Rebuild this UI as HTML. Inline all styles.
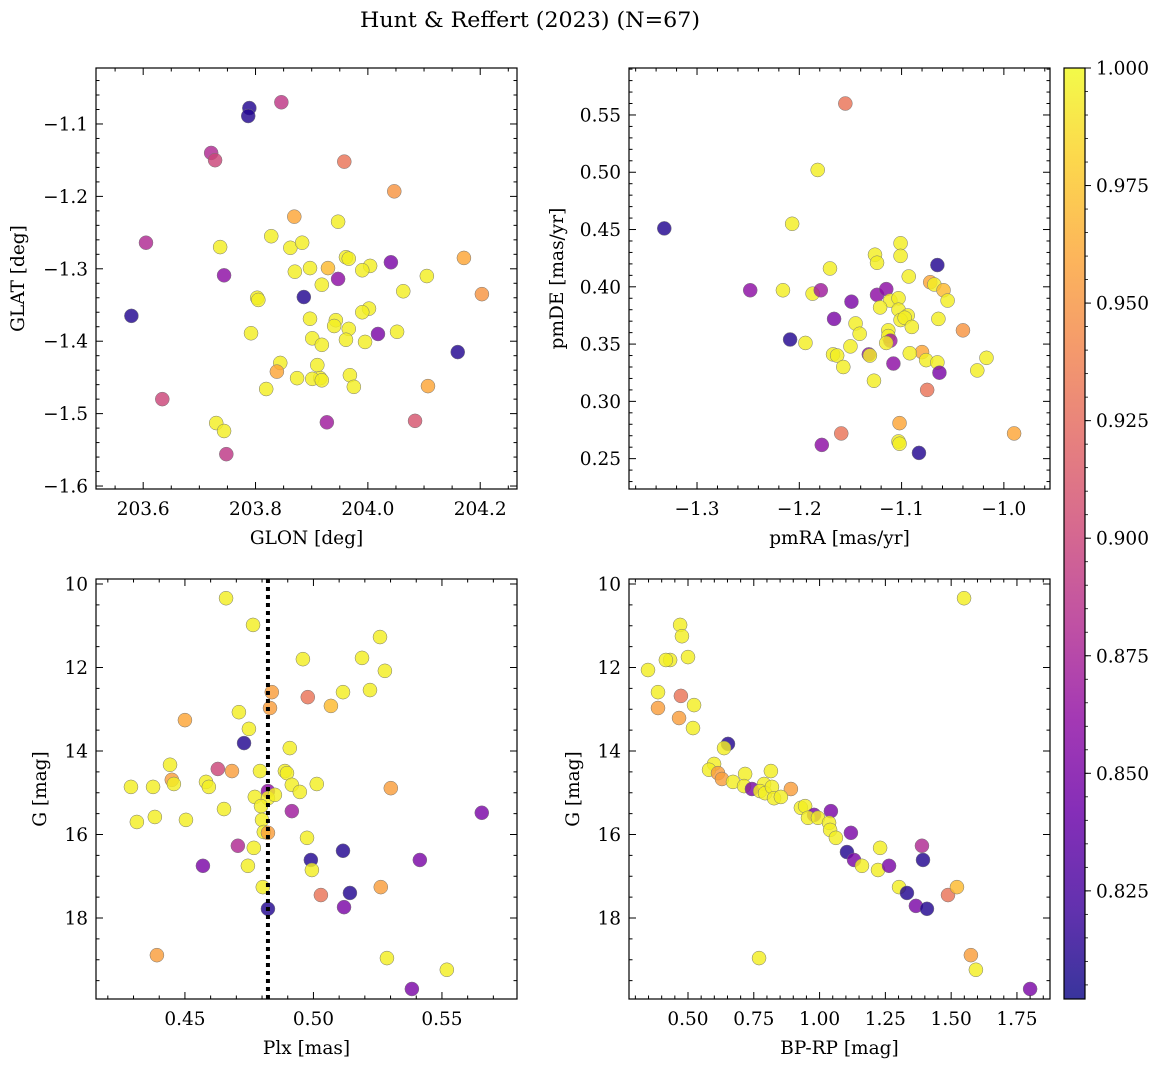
<!DOCTYPE html>
<html><head><meta charset="utf-8">
<style>
html,body{margin:0;padding:0;background:#fff;}
svg{display:block;font-family:"DejaVu Serif","Liberation Serif",serif;}
</style></head>
<body>
<svg id="fig" width="1161" height="1067" viewBox="0 0 1161 1067" xmlns="http://www.w3.org/2000/svg">
<text x="530" y="27" font-size="21.5" text-anchor="middle" textLength="340" lengthAdjust="spacingAndGlyphs">Hunt &amp; Reffert (2023) (N=67)</text>
<defs><linearGradient id="cmap" x1="0" y1="1" x2="0" y2="0">
<stop offset="0" stop-color="#0d0887"/><stop offset="0.1" stop-color="#41049d"/><stop offset="0.2" stop-color="#6a00a8"/><stop offset="0.3" stop-color="#8f0da4"/><stop offset="0.4" stop-color="#b12a90"/><stop offset="0.5" stop-color="#cc4778"/><stop offset="0.6" stop-color="#e16462"/><stop offset="0.7" stop-color="#f2844b"/><stop offset="0.8" stop-color="#fca636"/><stop offset="0.9" stop-color="#fcce25"/><stop offset="1" stop-color="#f0f921"/>
</linearGradient></defs>
</svg>
<script>
// Panel 1: GLON vs GLAT
const glon=[203.789,203.787,203.846,203.721,203.728,203.958,204.047,203.605,203.737,203.744,203.828,203.869,203.862,203.883,203.961,203.966,203.947,203.929,204.041,204.171,204.004,203.990,203.870,203.897,204.105,203.918,203.947,203.886,203.803,203.805,203.579,204.063,204.203,204.002,203.990,203.897,203.943,203.940,203.966,204.018,204.052,203.901,203.918,203.961,203.995,203.792,204.160,203.844,203.910,203.915,203.968,203.838,203.874,203.901,203.918,203.975,203.819,204.107,203.634,204.084,203.927,203.730,203.744,203.748];
const glat=[-1.078,-1.089,-1.070,-1.140,-1.150,-1.152,-1.193,-1.264,-1.270,-1.309,-1.255,-1.228,-1.271,-1.264,-1.284,-1.286,-1.235,-1.299,-1.291,-1.285,-1.296,-1.302,-1.304,-1.299,-1.310,-1.322,-1.314,-1.339,-1.340,-1.343,-1.365,-1.331,-1.335,-1.355,-1.360,-1.369,-1.371,-1.379,-1.383,-1.390,-1.387,-1.396,-1.405,-1.398,-1.401,-1.389,-1.415,-1.430,-1.433,-1.451,-1.447,-1.442,-1.451,-1.452,-1.454,-1.463,-1.466,-1.462,-1.480,-1.510,-1.512,-1.513,-1.524,-1.556];
const probA=[0.81,0.81,0.89,0.88,0.90,0.93,0.95,0.88,0.995,0.86,0.995,0.96,0.995,0.995,0.995,0.995,0.995,0.97,0.85,0.96,0.995,0.995,0.995,0.995,0.995,0.995,0.86,0.81,0.995,0.995,0.81,0.995,0.95,0.995,0.995,0.995,0.995,0.995,0.995,0.85,0.995,0.995,0.995,0.995,0.995,0.995,0.81,0.995,0.995,0.995,0.995,0.96,0.995,0.995,0.995,0.995,0.995,0.96,0.90,0.91,0.87,0.995,0.995,0.89];
// Panel 2: pmRA vs pmDE
const pmra=[-1.155,-1.182,-1.332,-1.207,-1.170,-1.126,-1.124,-1.101,-1.101,-1.248,-1.216,-1.187,-1.179,-1.093,-1.065,-1.072,-1.068,-1.059,-1.055,-1.149,-1.124,-1.115,-1.111,-1.103,-1.103,-1.121,-1.094,-1.101,-1.097,-1.090,-1.166,-1.145,-1.064,-1.141,-1.113,-1.113,-1.111,-1.115,-1.040,-1.209,-1.194,-1.150,-1.167,-1.163,-1.132,-1.131,-1.080,-1.092,-1.108,-1.076,-1.065,-1.017,-1.157,-1.063,-1.026,-1.127,-1.075,-1.159,-1.102,-1.178,-1.103,-1.102,-1.083,-0.990];
const pmde=[0.560,0.502,0.451,0.455,0.416,0.428,0.421,0.438,0.427,0.397,0.397,0.394,0.397,0.409,0.419,0.404,0.402,0.397,0.388,0.387,0.393,0.398,0.388,0.390,0.380,0.382,0.375,0.371,0.373,0.365,0.372,0.368,0.372,0.359,0.362,0.357,0.353,0.351,0.362,0.354,0.351,0.348,0.341,0.340,0.341,0.340,0.343,0.342,0.333,0.336,0.334,0.338,0.330,0.325,0.327,0.318,0.310,0.272,0.281,0.262,0.265,0.263,0.255,0.272];
const probB=[0.93,0.995,0.81,0.995,0.995,0.995,0.995,0.995,0.995,0.86,0.995,0.995,0.87,0.995,0.81,0.96,0.995,0.97,0.995,0.85,0.86,0.86,0.995,0.995,0.995,0.995,0.995,0.995,0.995,0.995,0.85,0.995,0.995,0.995,0.995,0.995,0.87,0.995,0.95,0.81,0.995,0.995,0.995,0.995,0.86,0.995,0.96,0.995,0.86,0.995,0.995,0.995,0.995,0.85,0.995,0.995,0.93,0.93,0.96,0.86,0.995,0.995,0.81,0.96];
// Panel 3: Plx vs G
const plx=[0.4660,0.4765,0.5259,0.4959,0.5278,0.5189,0.4838,0.4978,0.5115,0.4831,0.5068,0.5220,0.4500,0.4710,0.4749,0.4730,0.4908,0.4442,0.4683,0.4628,0.4792,0.4889,0.4897,0.4449,0.4457,0.4582,0.4593,0.4290,0.4376,0.4916,0.4823,0.5301,0.4772,0.4823,0.4947,0.5013,0.4850,0.4796,0.4652,0.4916,0.4800,0.4313,0.4383,0.4504,0.4807,0.4823,0.5655,0.4975,0.4706,0.4768,0.5115,0.4990,0.5414,0.4570,0.4994,0.4745,0.4803,0.5262,0.5142,0.5029,0.5119,0.4823,0.4391,0.5286,0.5519,0.5383];
const gmagC=[10.34,10.98,11.27,11.80,12.08,11.77,12.59,12.71,12.59,12.97,12.92,12.54,13.26,13.07,13.47,13.81,13.93,14.33,14.48,14.43,14.48,14.48,14.53,14.69,14.79,14.74,14.86,14.86,14.86,14.81,14.96,14.89,15.10,15.13,14.98,14.79,15.05,15.32,15.39,15.44,15.65,15.70,15.58,15.65,15.94,15.96,15.48,16.08,16.27,16.32,16.39,16.61,16.61,16.75,16.85,16.75,17.26,17.26,17.40,17.45,17.74,17.78,18.89,18.96,19.24,19.70];
const probC=[0.995,0.995,0.995,0.995,0.995,0.995,0.955,0.93,0.995,0.955,0.97,0.995,0.96,0.995,0.995,0.81,0.995,0.995,0.955,0.90,0.995,0.995,0.995,0.955,0.995,0.995,0.995,0.995,0.995,0.995,0.86,0.955,0.995,0.995,0.995,0.995,0.995,0.995,0.995,0.87,0.995,0.995,0.995,0.995,0.995,0.955,0.85,0.995,0.88,0.995,0.81,0.81,0.85,0.85,0.995,0.995,0.995,0.955,0.81,0.93,0.85,0.81,0.955,0.995,0.995,0.85];
const plxLine=[0.4823];
// Panel 4: BP-RP vs G
const bprp=[1.549,0.470,0.477,0.500,0.432,0.416,0.348,0.386,0.473,0.523,0.386,0.466,0.519,0.652,0.637,0.599,0.580,0.614,0.629,0.671,0.717,0.713,0.743,0.789,0.815,0.774,0.793,0.819,0.891,0.827,0.853,0.929,0.945,0.979,0.956,0.994,1.043,1.036,1.040,1.119,1.062,1.104,1.230,1.131,1.161,1.222,1.264,1.389,1.393,1.302,1.332,1.366,1.408,1.488,1.522,1.575,1.594,0.770,1.800];
const gmagD=[10.34,10.98,11.25,11.75,11.82,11.82,12.06,12.59,12.68,12.90,12.97,13.21,13.45,13.83,13.93,14.31,14.45,14.53,14.67,14.74,14.55,14.84,14.91,14.79,14.48,14.96,15.01,14.86,14.91,15.13,15.10,15.36,15.32,15.53,15.60,15.60,15.44,15.72,15.89,15.96,16.08,16.42,16.32,16.61,16.75,16.85,16.75,16.27,16.61,17.26,17.40,17.71,17.78,17.45,17.26,18.89,19.24,18.96,19.70];
const probD=[0.995,0.995,0.995,0.995,0.995,0.995,0.995,0.995,0.93,0.995,0.955,0.955,0.995,0.81,0.995,0.995,0.995,0.955,0.955,0.995,0.995,0.995,0.85,0.995,0.995,0.995,0.995,0.995,0.955,0.995,0.995,0.995,0.995,0.85,0.995,0.995,0.85,0.995,0.995,0.85,0.995,0.81,0.995,0.85,0.995,0.995,0.85,0.88,0.81,0.995,0.81,0.85,0.81,0.93,0.97,0.955,0.995,0.995,0.85];
const cbTicks=[0.825,0.850,0.875,0.900,0.925,0.950,0.975,1.000];

const NS="http://www.w3.org/2000/svg";
const svg=document.getElementById('fig');
const VMIN=0.802,VMAX=1.0;
const FS=18.5;
const stops=[[13,8,135],[65,4,157],[106,0,168],[143,13,164],[177,42,144],[204,71,120],[225,100,98],[242,132,75],[252,166,54],[252,206,37],[240,249,33]];
function cmap(v){let t=Math.max(0,Math.min(1,(v-VMIN)/(VMAX-VMIN)))*10;let i=Math.min(9,Math.floor(t)),f=t-i;const a=stops[i],b=stops[i+1];return 'rgb('+a.map((c,k)=>Math.round(c+(b[k]-c)*f)).join(',')+')';}
function mk(tag,attrs,parent){const e=document.createElementNS(NS,tag);for(const k in attrs)e.setAttribute(k,attrs[k]);(parent||svg).appendChild(e);return e;}
function fmt(v,d){return (v<0?'\u2212':'')+Math.abs(v).toFixed(d);}

function panel(o){
  const g=mk('g',{});
  
  
  const sx=v=>o.L+(v-o.xd[0])/(o.xd[1]-o.xd[0])*(o.R-o.L);
  const sy=v=>o.T+(v-o.yd[0])/(o.yd[1]-o.yd[0])*(o.B-o.T);
  for(let i=0;i<o.xs.length;i++){
    const c=mk('circle',{cx:sx(o.xs[i]),cy:sy(o.ys[i]),r:7,fill:cmap(o.cs[i]),'fill-opacity':0.82,stroke:'#777','stroke-width':0.5},g);
    
    
  }
  if(o.vline){const l=mk('line',{x1:sx(o.vline),x2:sx(o.vline),y1:o.T,y2:o.B,stroke:'#000','stroke-width':4,'stroke-dasharray':'4,4'},g);
    
    }
  const f=mk('rect',{x:o.L,y:o.T,width:o.R-o.L,height:o.B-o.T,fill:'none',stroke:'#000','stroke-width':1.2},g);
  
  
  const eps=1e-9;
  for(let v=Math.ceil(o.xd[0]/o.xmin-eps)*o.xmin; v<=o.xd[1]+eps; v+=o.xmin){
    const x=sx(v);const isMaj=Math.abs(v/o.xmaj-Math.round(v/o.xmaj))<1e-6;const len=isMaj?7:3.5;
    mk('line',{x1:x,x2:x,y1:o.B,y2:o.B-len,stroke:'#000','stroke-width':1},g);
    mk('line',{x1:x,x2:x,y1:o.T,y2:o.T+len,stroke:'#000','stroke-width':1},g);
    if(isMaj){const t=mk('text',{x:x,y:o.B+26,'font-size':FS,'text-anchor':'middle'},g);t.textContent=fmt(v,o.xdec);
      
      }
  }
  const y0=Math.min(o.yd[0],o.yd[1]),y1=Math.max(o.yd[0],o.yd[1]);
  for(let v=Math.ceil(y0/o.ymin-eps)*o.ymin; v<=y1+eps; v+=o.ymin){
    const y=sy(v);const isMaj=Math.abs(v/o.ymaj-Math.round(v/o.ymaj))<1e-6;const len=isMaj?7:3.5;
    mk('line',{x1:o.L,x2:o.L+len,y1:y,y2:y,stroke:'#000','stroke-width':1},g);
    mk('line',{x1:o.R,x2:o.R-len,y1:y,y2:y,stroke:'#000','stroke-width':1},g);
    if(isMaj){const t=mk('text',{x:o.L-8,y:y+6.5,'font-size':FS,'text-anchor':'end'},g);t.textContent=fmt(v,o.ydec);
      
      }
  }
  const xl=mk('text',{x:(o.L+o.R)/2,y:o.B+55,'font-size':FS,'text-anchor':'middle'},g);xl.textContent=o.xlabel;
  
  
  const yx=o.ylx;const yy=(o.T+o.B)/2;
  const yl=mk('text',{x:yx,y:yy,'font-size':FS,'text-anchor':'middle',transform:'rotate(-90 '+yx+' '+yy+')'},g);yl.textContent=o.ylabel;
  
  
}

panel({name:'glon-glat-panel',L:96,R:517,T:68,B:489,xd:[203.516,204.2655],yd:[-1.0227,-1.6041],xmaj:0.2,xmin:0.05,ymaj:0.1,ymin:0.02,xdec:1,ydec:1,xs:glon,ys:glat,cs:probA,xlabel:'GLON [deg]',ylabel:'GLAT [deg]',ylx:24});
panel({name:'proper-motion-panel',L:629,R:1050,T:68,B:489,xd:[-1.3665,-0.9549],yd:[0.591,0.2235],xmaj:0.1,xmin:0.02,ymaj:0.05,ymin:0.01,xdec:1,ydec:2,xs:pmra,ys:pmde,cs:probB,xlabel:'pmRA [mas/yr]',ylabel:'pmDE [mas/yr]',ylx:563});
panel({name:'parallax-g-panel',L:96,R:517,T:579,B:999,xd:[0.4154,0.5792],yd:[9.88,19.94],xmaj:0.05,xmin:0.01,ymaj:2,ymin:0.5,xdec:2,ydec:0,xs:plx,ys:gmagC,cs:probC,vline:plxLine[0],xlabel:'Plx [mas]',ylabel:'G [mag]',ylx:46});
panel({name:'cmd-panel',L:629,R:1050,T:579,B:999,xd:[0.2758,1.8756],yd:[9.88,19.94],xmaj:0.25,xmin:0.05,ymaj:2,ymin:0.5,xdec:2,ydec:0,xs:bprp,ys:gmagD,cs:probD,xlabel:'BP-RP [mag]',ylabel:'G [mag]',ylx:579});

const cb=mk('g',{});


const CT=68,CB=999,CL=1064,CR=1085;
mk('rect',{x:CL,y:CT,width:CR-CL,height:CB-CT,fill:'url(#cmap)','fill-opacity':0.82},cb);
mk('rect',{x:CL,y:CT,width:CR-CL,height:CB-CT,fill:'none',stroke:'#000','stroke-width':1.2},cb);
const cy=v=>CT+(VMAX-v)/(VMAX-VMIN)*(CB-CT);
for(let k=0;k<cbTicks.length;k++){const y=cy(cbTicks[k]);
  mk('line',{x1:CR,x2:CR+6,y1:y,y2:y,stroke:'#000','stroke-width':1},cb);
  const t=mk('text',{x:CR+11,y:y+6.5,'font-size':FS},cb);t.textContent=cbTicks[k].toFixed(3);
  
  }
for(let v=0.805;v<1.0;v+=0.005){const y=cy(v);mk('line',{x1:CR,x2:CR+3,y1:y,y2:y,stroke:'#000','stroke-width':0.8},cb);}
</script>
</body></html>
